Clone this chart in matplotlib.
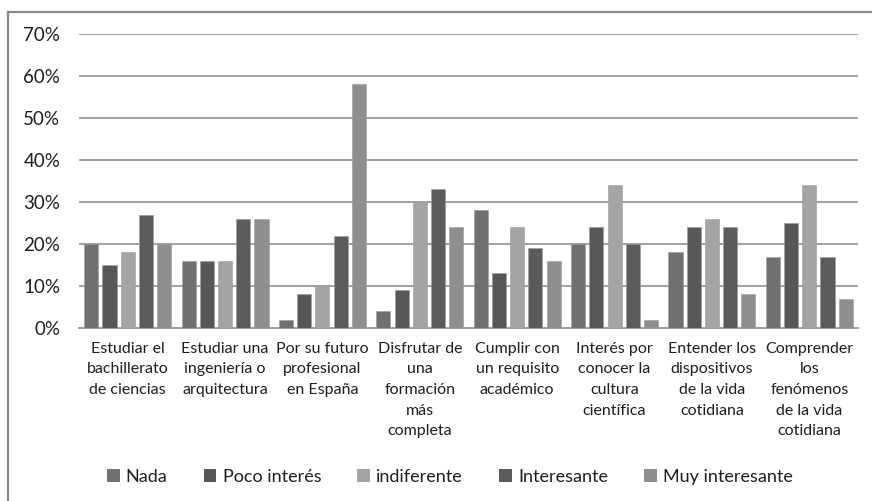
import matplotlib
matplotlib.use("Agg")
import matplotlib.pyplot as plt
import numpy as np
from matplotlib.patches import Patch
from matplotlib.lines import Line2D
from matplotlib.ticker import FuncFormatter

# data ---------------------------------------------------------------------------------------
categories = [
    "Estudiar el\nbachillerato\nde ciencias",
    "Estudiar una\ningeniería o\narquitectura",
    "Por su futuro\nprofesional\nen España",
    "Disfrutar de\nuna\nformación\nmás\ncompleta",
    "Cumplir con\nun requisito\nacadémico",
    "Interés por\nconocer la\ncultura\ncientífica",
    "Entender los\ndispositivos\nde la vida\ncotidiana",
    "Comprender\nlos\nfenómenos\nde la vida\ncotidiana",
]
series_names = ["Nada", "Poco interés", "indiferente", "Interesante", "Muy interesante"]
nada = [20, 16, 2, 4, 28, 20, 18, 17]
poco = [15, 16, 8, 9, 13, 24, 24, 25]
indiferente = [18, 16, 10, 30, 24, 34, 26, 34]
interesante = [27, 26, 22, 33, 19, 20, 24, 17]
muy = [20, 26, 58, 24, 16, 2, 8, 7]
y_ticks = [0, 10, 20, 30, 40, 50, 60, 70]

# styles -------------------------------------------------------------------------------------
COLORS = ["#707070", "#575757", "#a4a4a4", "#5b5b5b", "#8e8e8e"]
SLOT = 0.187
BAR_W = 0.145
plt.rcParams['font.family'] = ['Lato', 'DejaVu Sans']
NARROW = ['Liberation Sans Narrow', 'Lato', 'DejaVu Sans']

fig = plt.figure(figsize=(8.72, 5.01), dpi=100)
ax = fig.add_axes([79 / 872, 1 - 328 / 501, (858 - 79) / 872, (328 - 34) / 501])

x = np.arange(len(categories))
all_series = [nada, poco, indiferente, interesante, muy]
for j, vals in enumerate(all_series):
    ax.bar(x + (j - 2) * SLOT, np.array(vals) / 100.0, width=BAR_W,
           color=COLORS[j], edgecolor="#9a9a9a", linewidth=0.4, zorder=3)

ax.set_xlim(-0.5, len(categories) - 0.5)
ax.set_ylim(0, 0.7)
ax.set_yticks([t / 100 for t in y_ticks])
ax.yaxis.set_major_formatter(FuncFormatter(lambda v, p: "%d%%" % round(v * 100)))
ax.grid(axis="y", color="#a0a0a0", linewidth=1.4, zorder=0)
ax.set_xticks(x)
ax.set_xticklabels(categories, fontsize=11.5, color="#1e1e1e", linespacing=1.6, family=NARROW)
ax.tick_params(axis="x", length=0, pad=10)
ax.tick_params(axis="y", length=0, pad=13.5, labelsize=13.5, labelcolor="#1e1e1e")
for s in ["top", "right", "left"]:
    ax.spines[s].set_visible(False)
ax.spines["bottom"].set_color("#a0a0a0")
ax.spines["bottom"].set_linewidth(1.4)

# legend
handles = [Patch(facecolor=c, edgecolor="none") for c in COLORS]
fig.legend(handles, series_names, loc="center", bbox_to_anchor=(450 / 872, 1 - 477 / 501),
           ncol=5, frameon=False, fontsize=13, handlelength=0.7, handleheight=0.7,
           handletextpad=0.35, columnspacing=2.0, labelcolor="#1e1e1e")

# outer chart border
fig.add_artist(Line2D([8 / 872, 1.0], [1 - 12 / 501, 1 - 12 / 501], color="#8a8a8a", linewidth=1.6))
fig.add_artist(Line2D([8 / 872, 8 / 872], [0, 1 - 12 / 501], color="#8a8a8a", linewidth=1.6))

plt.savefig("out.png", dpi=100)
